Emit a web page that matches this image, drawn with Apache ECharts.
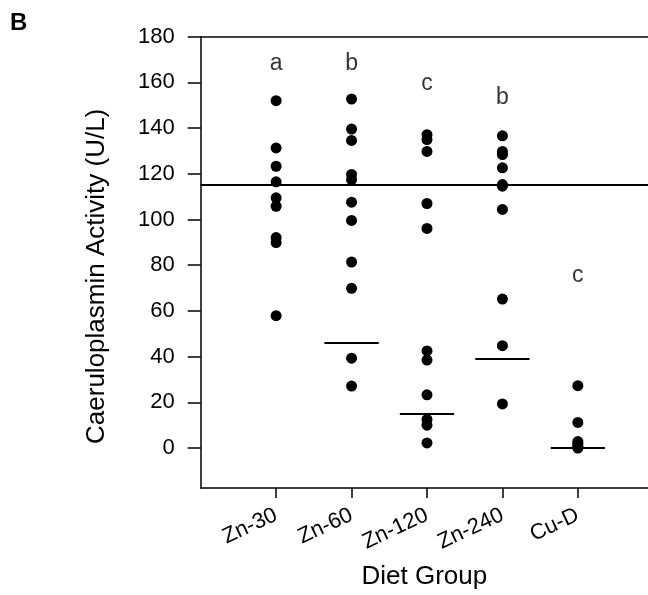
<!DOCTYPE html>
<html>
<head>
<meta charset="utf-8">
<script src="https://cdn.jsdelivr.net/npm/echarts@6/dist/echarts.min.js"></script>
<style>
html,body{margin:0;padding:0;background:#fff;}
#chart{width:648px;height:595px;}
</style>
</head>
<body>
<div id="chart"></div>
<script>
// ---- data ----
var categories = ['Zn-30', 'Zn-60', 'Zn-120', 'Zn-240', 'Cu-D'];
var zn30  = [152, 131.3, 123.3, 116.5, 109.5, 105.8, 92.1, 89.9, 57.9];
var zn60  = [152.7, 139.6, 134.6, 119.7, 117.5, 107.6, 99.6, 81.4, 69.9, 39.3, 27.1];
var zn120 = [137.1, 135, 129.8, 107, 96.1, 42.5, 38.5, 23.3, 12.5, 10, 2.2];
var zn240 = [136.6, 129.8, 128.4, 122.6, 115.3, 114.6, 104.4, 65.2, 44.8, 19.3];
var cuD   = [27.3, 11.2, 2.8, 2, 1, 0.3, 0];
var groups = [zn30, zn60, zn120, zn240, cuD];
var medians = [null, 46, 15.2, 39, 0];   // group medians (Zn-30 coincides with reference)
var referenceValue = 115;
var letters = ['a', 'b', 'c', 'b', 'c'];
var letterY = [168, 168, 159.5, 153.5, 75.5];
var yTicks = [0, 20, 40, 60, 80, 100, 120, 140, 160, 180];
var xTicks = [1, 2, 3, 4, 5];

// ---- build ----
var FONT = 'Liberation Sans, Arial, Helvetica, sans-serif';
var pts = [];
groups.forEach(function (g, i) {
  g.forEach(function (v) { pts.push([i + 1, v]); });
});
var medianSegs = [];
medians.forEach(function (m, i) {
  if (m === null) return;
  medianSegs.push([{ coord: [i + 1 - 0.36, m] }, { coord: [i + 1 + 0.36, m] }]);
});
var letterPts = letters.map(function (l, i) { return { value: [i + 1, letterY[i]], name: l }; });

var chart = echarts.init(document.getElementById('chart'), null, { renderer: 'canvas' });
chart.setOption({
  animation: false,
  backgroundColor: '#fff',
  textStyle: { fontFamily: FONT },
  graphic: [{
    type: 'text', left: 10, top: 11,
    style: { text: 'B', font: 'bold 24px ' + FONT, fill: '#000' }
  }],
  grid: { left: 200.7, top: 36.7, right: 0, bottom: 105.7, containLabel: false },
  xAxis: [{
    type: 'value', min: 0, max: 5.93,
    position: 'bottom',
    name: 'Diet Group', nameLocation: 'middle', nameGap: 76,
    nameTextStyle: { fontSize: 26, color: '#000', fontFamily: FONT },
    axisLine: { show: true, onZero: false, lineStyle: { color: '#000', width: 1.5 } },
    axisTick: { show: true, length: 10, customValues: xTicks, lineStyle: { color: '#000', width: 1.5 } },
    axisLabel: {
      show: true, customValues: xTicks, rotate: 25, margin: 26,
      fontSize: 22, color: '#000', fontFamily: FONT,
      formatter: function (v) { return categories[Math.round(v) - 1] || ''; }
    },
    splitLine: { show: false }
  }, {
    type: 'value', min: 0, max: 5.93, position: 'top',
    axisLine: { show: true, onZero: false, lineStyle: { color: '#000', width: 1.5 } },
    axisTick: { show: false }, axisLabel: { show: false }, splitLine: { show: false }
  }],
  yAxis: {
    type: 'value', min: -17.5, max: 180,
    name: 'Caeruloplasmin Activity (U/L)', nameLocation: 'middle', nameGap: 91,
    nameTextStyle: { fontSize: 26, color: '#000', fontFamily: FONT, padding: [0, 28, 0, 0] },
    axisLine: { show: true, onZero: false, lineStyle: { color: '#000', width: 1.5 } },
    axisTick: { show: true, length: 13, customValues: yTicks, lineStyle: { color: '#000', width: 1.5 } },
    axisLabel: { show: true, customValues: yTicks, margin: 26, fontSize: 22, color: '#000', fontFamily: FONT },
    splitLine: { show: false }
  },
  series: [{
    type: 'scatter', xAxisIndex: 0,
    data: pts, symbol: 'circle', symbolSize: 11,
    itemStyle: { color: '#000', opacity: 1 },
    markLine: {
      silent: true, symbol: 'none', animation: false,
      label: { show: false },
      lineStyle: { color: '#000', width: 2, type: 'solid' },
      data: [{ yAxis: referenceValue }].concat(medianSegs)
    }
  }, {
    type: 'scatter', xAxisIndex: 0,
    data: letterPts, symbolSize: 0, silent: true,
    label: {
      show: true, position: 'inside', formatter: '{b}',
      fontSize: 23, color: '#000', fontFamily: FONT
    }
  }]
});
</script>
</body>
</html>
